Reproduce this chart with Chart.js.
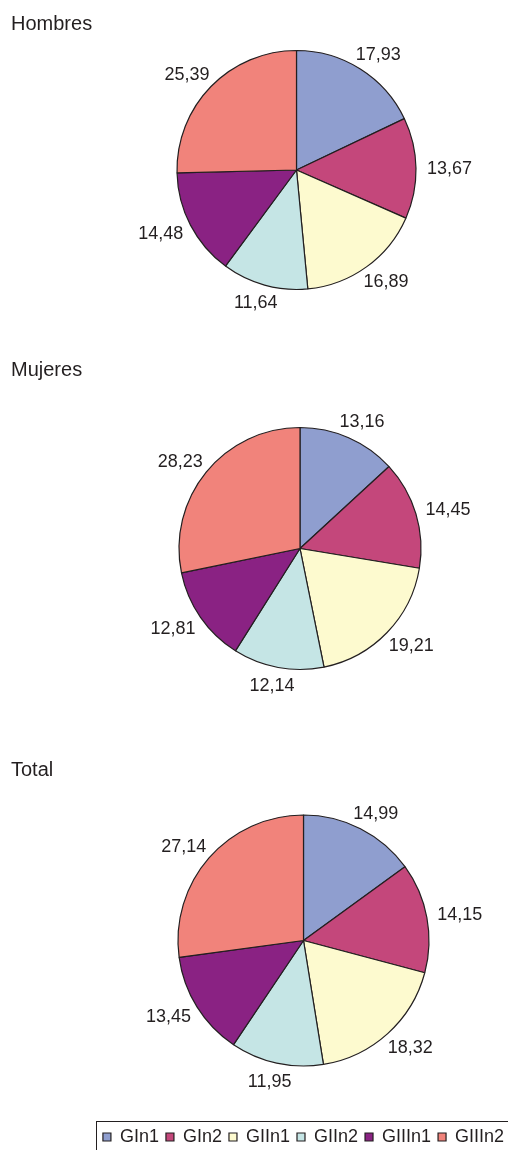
<!DOCTYPE html>
<html>
<head>
<meta charset="utf-8">
<script src="https://cdn.jsdelivr.net/npm/chart.js@4/dist/chart.umd.min.js"></script>
<style>
  html, body { margin: 0; padding: 0; background: #fff; overflow: hidden; }
  body { width: 508px; height: 1150px; position: relative; }
  canvas { position: absolute; left: 0; }
</style>
</head>
<body>
<canvas id="pie-hombres" width="593" height="340" style="top:0px"></canvas>
<canvas id="pie-mujeres" width="600" height="417" style="top:340px"></canvas>
<canvas id="pie-total" width="607" height="396" style="top:760px"></canvas>
<script>
var categories = ['GIn1', 'GIn2', 'GIIn1', 'GIIn2', 'GIIIn1', 'GIIIn2'];
var hombres = [17.93, 13.67, 16.89, 11.64, 14.48, 25.39];
var mujeres = [13.16, 14.45, 19.21, 12.14, 12.81, 28.23];
var total = [14.99, 14.15, 18.32, 11.95, 13.45, 27.14];
var sliceColors = ['#8f9ecf', '#c4477b', '#fdfacf', '#c5e5e5', '#8a2283', '#f1837b'];

var textColor = '#231f20';
var fontFamily = '"Liberation Sans", Arial, Helvetica, sans-serif';

(function() {
    'use strict';

    // numbers outside each slice, pushed out along the slice middle
    var valueLabels = {
        id: 'valueLabels',
        afterDatasetsDraw: function(chart) {
            var ctx = chart.ctx;
            var meta = chart.getDatasetMeta(0);
            var data = chart.data.datasets[0].data;
            ctx.save();
            ctx.font = '18px ' + fontFamily;
            ctx.fillStyle = textColor;
            ctx.textAlign = 'center';
            ctx.textBaseline = 'middle';
            meta.data.forEach(function(arc, i) {
                var p = arc.getProps(['x', 'y', 'startAngle', 'endAngle', 'outerRadius'], true);
                var mid = (p.startAngle + p.endAngle) / 2;
                var text = data[i].toFixed(2).replace('.', ',');
                var w = ctx.measureText(text).width;
                var d = p.outerRadius + 11;
                ctx.fillText(text,
                    p.x + Math.cos(mid) * (d + w / 2),
                    p.y + Math.sin(mid) * (d + 7) + 1);
            });
            ctx.restore();
        }
    };

    var panelTitle = {
        id: 'panelTitle',
        afterDraw: function(chart, args, opts) {
            if (!opts || !opts.text) return;
            var ctx = chart.ctx;
            ctx.save();
            ctx.font = '20px ' + fontFamily;
            ctx.fillStyle = textColor;
            ctx.textAlign = 'left';
            ctx.textBaseline = 'alphabetic';
            ctx.fillText(opts.text, opts.x, opts.y);
            ctx.restore();
        }
    };

    var legendFrame = {
        id: 'legendFrame',
        afterDraw: function(chart) {
            var legend = chart.legend;
            if (!legend || !legend.options.display) return;
            var hb = legend.legendHitBoxes[0];
            var ctx = chart.ctx;
            var x0 = Math.round(hb.left - 7) + 0.5;
            var y0 = Math.round(legend.top) + 0.5;
            ctx.save();
            ctx.strokeStyle = textColor;
            ctx.lineWidth = 1;
            ctx.strokeRect(x0, y0, chart.width - x0 + 10, chart.height - y0 + 10);
            ctx.restore();
        }
    };

    function makePie(id, values, title, titleY, radius, showLegend) {
        var ctx = document.getElementById(id).getContext('2d');
        return new Chart(ctx, {
            type: 'pie',
            data: {
                labels: categories,
                datasets: [{
                    data: values,
                    backgroundColor: sliceColors,
                    borderColor: textColor,
                    borderWidth: 1.2,
                    hoverBorderWidth: 1.2,
                    hoverOffset: 0
                }]
            },
            options: {
                responsive: false,
                animation: false,
                devicePixelRatio: 1,
                events: [],
                radius: radius,
                layout: { padding: 0 },
                plugins: {
                    title: { display: false },
                    tooltip: { enabled: false },
                    legend: {
                        display: showLegend,
                        position: 'bottom',
                        align: 'center',
                        labels: {
                            boxWidth: 8,
                            boxHeight: 8,
                            padding: 7,
                            color: textColor,
                            font: { family: fontFamily, size: 18 }
                        }
                    },
                    panelTitle: { text: title, x: 11, y: titleY }
                }
            },
            plugins: [valueLabels, panelTitle, legendFrame]
        });
    }

    makePie('pie-hombres', hombres, 'Hombres', 30, 119.5, false);
    makePie('pie-mujeres', mujeres, 'Mujeres', 36, 121, false);
    makePie('pie-total', total, 'Total', 16, 125.5, true);
})();
</script>
</body>
</html>
